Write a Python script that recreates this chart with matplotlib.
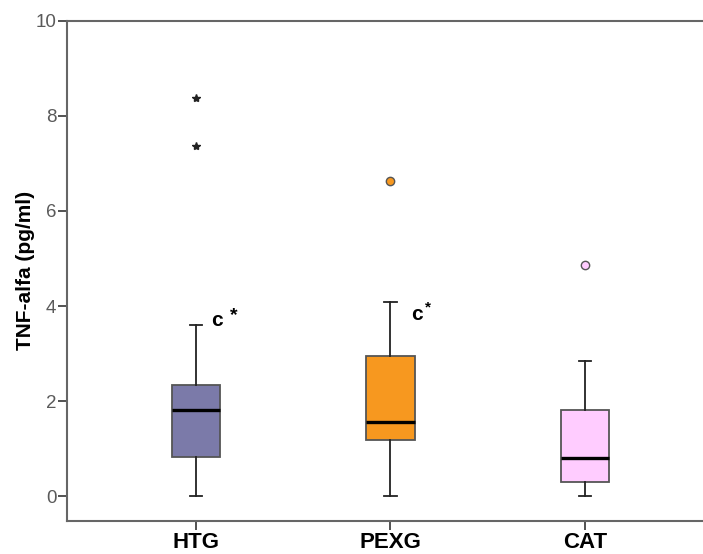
import matplotlib
matplotlib.use("Agg")
import matplotlib.pyplot as plt

plt.rcParams['font.family'] = ['Liberation Sans', 'DejaVu Sans']

# box summary values (pg/ml)
groups = ['HTG', 'PEXG', 'CAT']
whisker_low = [0.0, 0.0, 0.0]
q1 = [0.82, 1.18, 0.30]
median = [1.82, 1.57, 0.81]
q3 = [2.33, 2.96, 1.82]
whisker_high = [3.61, 4.08, 2.84]
outliers = [[], [6.63], [4.86]]
extremes = [[7.37, 8.38], [], []]
colors = ['#7b7aa9', '#f7981f', '#ffccff']

fig = plt.figure(figsize=(7.03, 5.54), dpi=100)
ax = fig.add_axes([0.0949, 0.0601, 0.9051, 0.9025])

stats = []
for i, g in enumerate(groups):
    stats.append({'label': g, 'whislo': whisker_low[i], 'q1': q1[i], 'med': median[i],
                  'q3': q3[i], 'whishi': whisker_high[i], 'fliers': outliers[i]})

pos = [1, 2, 3]
bp = ax.bxp(stats, positions=pos, widths=0.25, capwidths=0.065, patch_artist=True,
            boxprops=dict(edgecolor='#555555', linewidth=1.3),
            whiskerprops=dict(color='#222222', linewidth=1.3),
            capprops=dict(color='#222222', linewidth=1.3),
            medianprops=dict(color='black', linewidth=2.4),
            flierprops=dict(marker='o', markersize=6, markeredgecolor='#555555',
                            markeredgewidth=1.0))
for i, box in enumerate(bp['boxes']):
    box.set_facecolor(colors[i])
for i, fl in enumerate(bp['fliers']):
    fl.set_markerfacecolor(colors[i])

# extreme values as stars
for i, ev in enumerate(extremes):
    if ev:
        ax.plot([pos[i]] * len(ev), ev, linestyle='none', marker='*', markersize=6,
                color='#222222')

# significance marks
ax.text(1.11, 3.70, 'c', fontsize=15, fontweight='bold', ha='center', va='center')
ax.text(1.195, 3.80, '*', fontsize=14, fontweight='bold', ha='center', va='center')
ax.text(2.135, 3.82, 'c', fontsize=15, fontweight='bold', ha='center', va='center')
ax.text(2.195, 3.98, '*', fontsize=11, fontweight='bold', ha='center', va='center')

ax.set_xlim(0.335, 3.607)
ax.set_ylim(-0.513, 10)
ax.set_yticks([0, 2, 4, 6, 8, 10])
ax.set_xticks(pos)
ax.set_xticklabels(groups, fontsize=16, fontweight='bold')
ax.tick_params(axis='y', labelsize=13.5, labelcolor='#5a5a5a', length=6.5, width=1.3,
               color='#444444', pad=1)
ax.tick_params(axis='x', length=6.5, width=1.3, color='#444444', pad=1.5)
ax.set_ylabel('TNF-alfa (pg/ml)', fontsize=15, fontweight='bold', labelpad=0)

ax.spines['right'].set_visible(False)
for s in ['left', 'top', 'bottom']:
    ax.spines[s].set_color('#666666')
    ax.spines[s].set_linewidth(1.5)

fig.savefig('out.png', dpi=100)
